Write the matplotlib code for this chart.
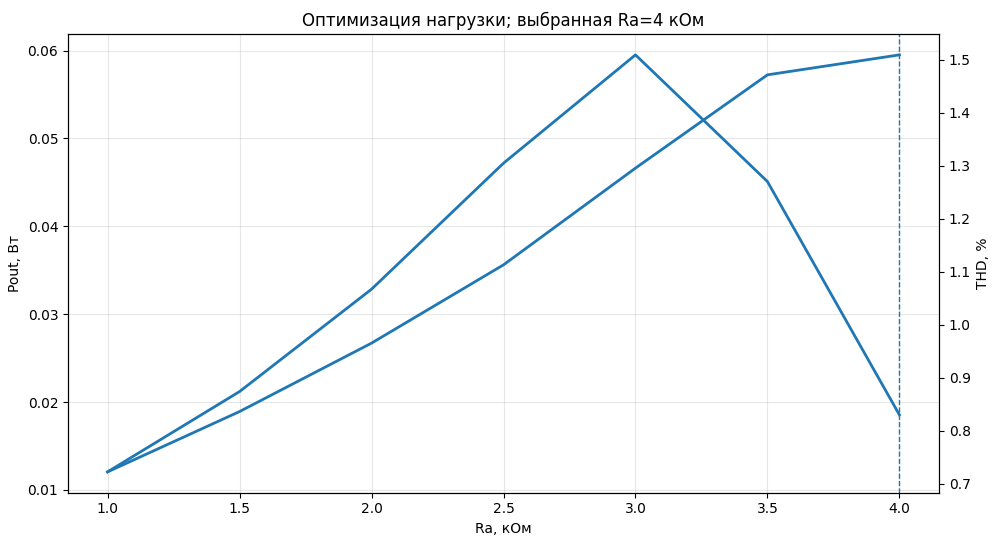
import matplotlib
matplotlib.use("Agg")
import matplotlib.pyplot as plt

# Ra sweep, kOhm
ra_kohm = [1.0, 1.5, 2.0, 2.5, 3.0, 3.5, 4.0]
# output power, W
pout_w = [0.01205, 0.02119, 0.03284, 0.04718, 0.05951, 0.04509, 0.01854]
# distortion, %
thd_pct = [0.7226, 0.8364, 0.9655, 1.1132, 1.2957, 1.4717, 1.5094]
ra_chosen = 4.0

fig, ax = plt.subplots(figsize=(10, 5.46), dpi=100)
ax.plot(ra_kohm, pout_w, linewidth=2)
ax.set_xlabel("Ra, кОм")
ax.set_ylabel("Pout, Вт")
ax.grid(True, alpha=0.3)

# second axis gets its own colour cycle, so it is drawn in C0 too
ax2 = ax.twinx()
ax2.plot(ra_kohm, thd_pct, linewidth=2)
ax2.set_ylabel("THD, %")

ax.axvline(ra_chosen, linestyle="--", linewidth=1)
ax.set_title("Оптимизация нагрузки; выбранная Ra=4 кОм")

fig.subplots_adjust(left=0.068, right=0.939, top=0.9377, bottom=0.0976)
fig.savefig("out.png", dpi=100)
